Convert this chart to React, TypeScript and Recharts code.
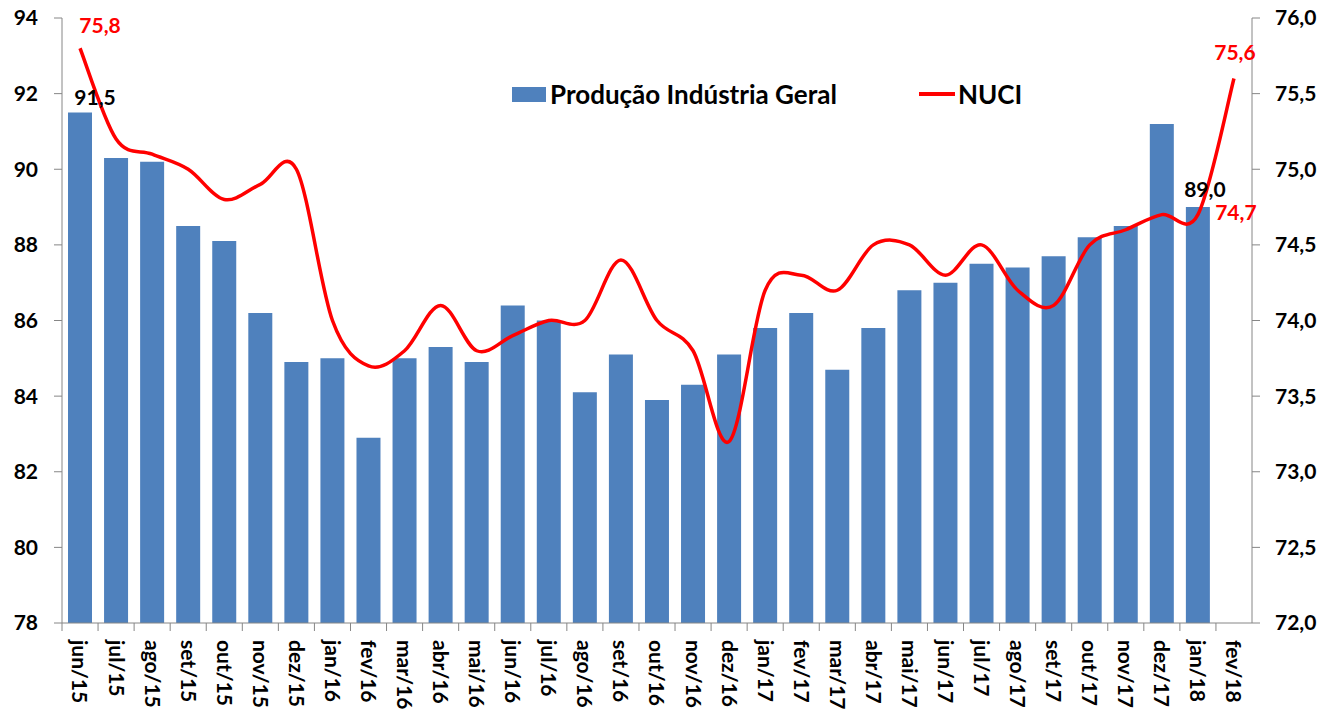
import React from 'react';
import { ComposedChart, Bar, Line, XAxis, YAxis, LabelList } from 'recharts';

const months = [
  'jun/15', 'jul/15', 'ago/15', 'set/15', 'out/15', 'nov/15', 'dez/15',
  'jan/16', 'fev/16', 'mar/16', 'abr/16', 'mai/16', 'jun/16', 'jul/16', 'ago/16', 'set/16', 'out/16', 'nov/16', 'dez/16',
  'jan/17', 'fev/17', 'mar/17', 'abr/17', 'mai/17', 'jun/17', 'jul/17', 'ago/17', 'set/17', 'out/17', 'nov/17', 'dez/17',
  'jan/18', 'fev/18',
];

const producao = [
  91.5, 90.3, 90.2, 88.5, 88.1, 86.2, 84.9,
  85.0, 82.9, 85.0, 85.3, 84.9, 86.4, 86.0, 84.1, 85.1, 83.9, 84.3, 85.1,
  85.8, 86.2, 84.7, 85.8, 86.8, 87.0, 87.5, 87.4, 87.7, 88.2, 88.5, 91.2,
  89.0, null,
];

const nuci = [
  75.8, 75.2, 75.1, 75.0, 74.8, 74.9, 75.0,
  74.0, 73.7, 73.8, 74.1, 73.8, 73.9, 74.0, 74.0, 74.4, 74.0, 73.8, 73.2,
  74.2, 74.3, 74.2, 74.5, 74.5, 74.3, 74.5, 74.2, 74.1, 74.5, 74.6, 74.7,
  74.7, 75.6,
];

const leftTicks = [78, 80, 82, 84, 86, 88, 90, 92, 94];
const rightTicks = [72, 72.5, 73, 73.5, 74, 74.5, 75, 75.5, 76];

// which points carry a data label
const barLabelIdx = [0, 31];
const lineLabelIdx = [0, 31, 32];

// label nudges (styling only)
const barLabelNudge: Record<number, [number, number]> = { 0: [15, -15], 31: [7, -18] };
const lineLabelNudge: Record<number, [number, number]> = { 0: [20, -23], 31: [38, -2], 32: [1, -26] };

const data = months.map((m, i) => ({ month: m, producao: producao[i], nuci: nuci[i] }));

const BLUE = '#4F81BD';
const RED = '#FF0000';
const AXIS = '#868686';
const BAND = (1252 - 62) / 33;
const FONT = 'Lato, "Open Sans", sans-serif';

const fmt = (v: number) => v.toFixed(1).replace('.', ',');

// Excel-like smoothed line (Catmull-Rom as bezier)
const excelSmooth = (context: any) => {
  let pts: number[][] = [];
  return {
    areaStart() {},
    areaEnd() {},
    lineStart() { pts = []; },
    point(x: number, y: number) { pts.push([+x, +y]); },
    lineEnd() {
      if (!pts.length) return;
      context.moveTo(pts[0][0], pts[0][1]);
      for (let i = 0; i < pts.length - 1; i++) {
        const p0 = pts[i - 1] || pts[i];
        const p1 = pts[i];
        const p2 = pts[i + 1];
        const p3 = pts[i + 2] || p2;
        context.bezierCurveTo(
          p1[0] + (p2[0] - p0[0]) / 6, p1[1] + (p2[1] - p0[1]) / 6,
          p2[0] - (p3[0] - p1[0]) / 6, p2[1] - (p3[1] - p1[1]) / 6,
          p2[0], p2[1],
        );
      }
    },
  };
};

function MonthTick(props: any) {
  const { x, y, payload } = props;
  const ty = y + 17;
  return (
    <g>
      <line x1={x - BAND / 2} y1={y} x2={x - BAND / 2} y2={y + 8} stroke={AXIS} />
      <text
        x={x}
        y={ty}
        dy="0.36em"
        transform={`rotate(90, ${x}, ${ty})`}
        textAnchor="start"
        fontSize={21}
        fontWeight="bold"
        fontFamily={FONT}
        fill="#000"
      >
        {payload.value}
      </text>
    </g>
  );
}

function BarValueLabel(props: any) {
  const { x, y, width, value, index } = props;
  if (!barLabelIdx.includes(index) || value == null) return null;
  const [dx, dy] = barLabelNudge[index] || [0, -15];
  return (
    <text x={x + width / 2 + dx} y={y + dy} dy="0.36em" textAnchor="middle" fontSize={21} fontWeight="bold" fontFamily={FONT} fill="#000">
      {fmt(value)}
    </text>
  );
}

function LineValueLabel(props: any) {
  const { x, y, value, index } = props;
  if (!lineLabelIdx.includes(index) || value == null) return null;
  const [dx, dy] = lineLabelNudge[index] || [0, -20];
  return (
    <text x={x + dx} y={y + dy} dy="0.36em" textAnchor="middle" fontSize={21} fontWeight="bold" fontFamily={FONT} fill={RED}>
      {fmt(value)}
    </text>
  );
}

const tickStyle = { fontSize: 21, fontWeight: 'bold', fill: '#000', fontFamily: FONT };

export default function App() {
  return (
    <div style={{ position: 'absolute', left: 0, top: 0, width: 1322, height: 710, background: '#fff', fontFamily: FONT, overflow: 'hidden' }}>
      <ComposedChart width={1322} height={710} data={data} margin={{ top: 18, right: 0, bottom: 0, left: 0 }}>
        <XAxis
          dataKey="month"
          height={87}
          interval={0}
          tickSize={0}
          tickMargin={0}
          axisLine={{ stroke: AXIS }}
          tickLine={false}
          tick={<MonthTick />}
        />
        <YAxis
          yAxisId="left"
          orientation="left"
          width={62}
          domain={[78, 94]}
          ticks={leftTicks}
          interval={0}
          tickSize={8}
          tickMargin={16}
          axisLine={{ stroke: AXIS }}
          tickLine={{ stroke: AXIS }}
          tick={tickStyle}
        />
        <YAxis
          yAxisId="right"
          orientation="right"
          width={70}
          domain={[72, 76]}
          ticks={rightTicks}
          interval={0}
          tickSize={8}
          tickMargin={15}
          tickFormatter={fmt}
          axisLine={{ stroke: AXIS }}
          tickLine={{ stroke: AXIS }}
          tick={tickStyle}
        />
        <Bar yAxisId="left" dataKey="producao" name="Produção Indústria Geral" fill={BLUE} barSize={24} isAnimationActive={false}>
          <LabelList dataKey="producao" content={<BarValueLabel />} />
        </Bar>
        <Line
          yAxisId="right"
          dataKey="nuci"
          name="NUCI"
          type={excelSmooth as any}
          stroke={RED}
          strokeWidth={3.5}
          dot={false}
          activeDot={false}
          isAnimationActive={false}
        >
          <LabelList dataKey="nuci" content={<LineValueLabel />} />
        </Line>
      </ComposedChart>

      {/* legend */}
      <div style={{ position: 'absolute', left: 512, top: 87, width: 34, height: 15, background: BLUE }} />
      <div style={{ position: 'absolute', left: 550, top: 80, fontSize: 26, lineHeight: '28px', fontWeight: 'bold', color: '#000', whiteSpace: 'nowrap' }}>
        Produção Indústria Geral
      </div>
      <div style={{ position: 'absolute', left: 919, top: 92, width: 36, height: 4, background: RED }} />
      <div style={{ position: 'absolute', left: 958, top: 80, fontSize: 26, lineHeight: '28px', fontWeight: 'bold', color: '#000', whiteSpace: 'nowrap' }}>
        NUCI
      </div>
    </div>
  );
}
